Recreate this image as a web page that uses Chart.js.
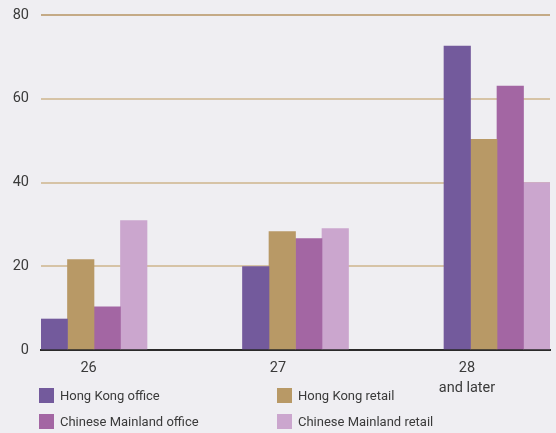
<!DOCTYPE html>
<html>
<head>
<meta charset="utf-8">
<script src="https://cdn.jsdelivr.net/npm/chart.js@4/dist/chart.umd.min.js"></script>
<style>
  html, body { margin: 0; padding: 0; background: #efeef2; }
  #wrap { position: relative; width: 556px; height: 433px; }
  #chart { position: absolute; left: 0; top: 0; }
  #legend { position: absolute; left: 39px; top: 388px; width: 517px;
            font-family: Roboto, "Liberation Sans", Arial, sans-serif; font-size: 13px; color: #3a3a3a; }
  .item { position: absolute; display: flex; align-items: center; height: 15px; white-space: nowrap; }
  .sw { width: 15px; height: 15px; margin-right: 6px; }
</style>
</head>
<body>
<div id="wrap">
  <canvas id="chart" width="556" height="433"></canvas>
  <div id="legend"></div>
</div>
<script>
// Lease expiry profile by year (%)
const categories = ['26', '27', ['28', 'and later']];
const groupIndex = [0, 1, 2];
const labelPositions = [-0.027, 0.913, 1.851];

const hongKongOffice = [7.4, 19.9, 72.6];
const hongKongRetail = [21.6, 28.3, 50.3];
const mainlandOffice = [10.3, 26.6, 63.0];
const mainlandRetail = [30.9, 29.0, 40.0];

const yTicks = [0, 20, 40, 60, 80];

const seriesNames = ['Hong Kong office', 'Hong Kong retail', 'Chinese Mainland office', 'Chinese Mainland retail'];
const seriesColors = ['#735a9c', '#b89966', '#a366a3', '#cba6ce'];
const seriesValues = [hongKongOffice, hongKongRetail, mainlandOffice, mainlandRetail];

const font = "Roboto, 'Liberation Sans', Arial, sans-serif";

const datasets = seriesValues.map((vals, i) => ({
  label: seriesNames[i],
  data: vals.map((v, j) => ({ x: groupIndex[j], y: v })),
  backgroundColor: seriesColors[i],
  borderWidth: 0,
  barThickness: 26.5,
  grouped: true
}));

new Chart(document.getElementById('chart'), {
  type: 'bar',
  data: { datasets },
  options: {
    responsive: false,
    animation: false,
    layout: { padding: { top: 15, right: 6, left: 0, bottom: 0 } },
    plugins: { legend: { display: false }, tooltip: { enabled: false } },
    scales: {
      x: {
        type: 'linear',
        offset: false,
        min: -0.263,
        max: 2.263,
        grid: { display: false, drawTicks: false, offset: false },
        border: { display: true, color: '#2a2a2a', width: 2 },
        afterBuildTicks: (scale) => { scale.ticks = labelPositions.map(v => ({ value: v })); },
        afterFit: (scale) => { scale.height = 83; scale.paddingLeft = 0; scale.paddingRight = 0; },
        ticks: {
          autoSkip: false,
          maxRotation: 0,
          padding: 9,
          color: '#3a3a3a',
          font: { family: font, size: 14.5, lineHeight: 1.35 },
          callback: (value, index) => categories[index]
        }
      },
      y: {
        min: 0,
        max: 80,
        afterBuildTicks: (scale) => { scale.ticks = yTicks.map(v => ({ value: v })); },
        afterFit: (scale) => { scale.width = 41; scale.paddingTop = 0; scale.paddingBottom = 0; },
        border: { display: false },
        grid: {
          drawTicks: false,
          lineWidth: 2,
          color: (ctx) => {
            const v = ctx.tick && ctx.tick.value;
            if (v === 0) return 'rgba(0,0,0,0)';
            if (v === 80) return '#c4aa86';
            return '#d6c3a6';
          }
        },
        ticks: {
          padding: 12,
          color: '#3a3a3a',
          font: { family: font, size: 14.5 }
        }
      }
    }
  }
});

// Legend in two columns
const legend = document.getElementById('legend');
const colX = [0, 238];
const rowY = [0, 26];
seriesNames.forEach((name, i) => {
  const item = document.createElement('div');
  item.className = 'item';
  item.style.left = colX[i % 2] + 'px';
  item.style.top = rowY[Math.floor(i / 2)] + 'px';
  const sw = document.createElement('span');
  sw.className = 'sw';
  sw.style.background = seriesColors[i];
  const txt = document.createElement('span');
  txt.textContent = name;
  item.appendChild(sw);
  item.appendChild(txt);
  legend.appendChild(item);
});
</script>
</body>
</html>
